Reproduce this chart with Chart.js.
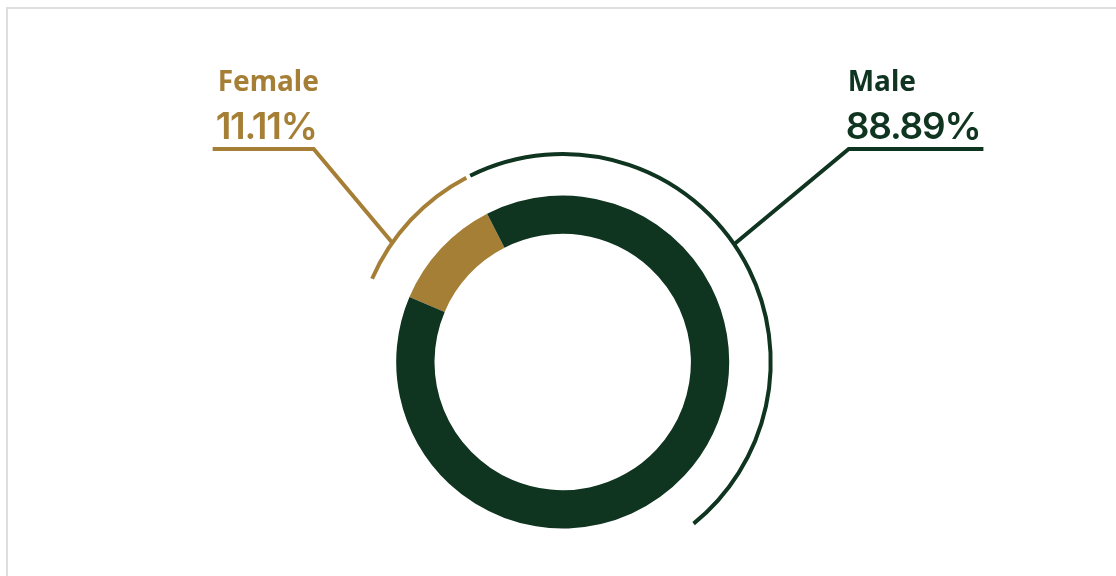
<!DOCTYPE html>
<html>
<head>
<meta charset="utf-8">
<script src="https://cdn.jsdelivr.net/npm/chart.js@4/dist/chart.umd.min.js"></script>
<style>
    html, body { margin: 0; padding: 0; background: #fff; overflow: hidden; }
    .card { position: absolute; left: 6px; top: 7px; width: 1200px; height: 700px; border: 2px solid #dedede; box-sizing: border-box; }
    .wrap { position: absolute; left: 0; top: 0; width: 1116px; height: 576px; }
</style>
</head>
<body>
<div class="card"></div>
<div class="wrap"><canvas id="genderChart"></canvas></div>
<script>
const labels = ['Female', 'Male'];
const shares = [11.11, 88.89];
const colors = ['#a67f37', '#0f3420'];

// callout layout: where each leader leaves the outer ring and where it bends
const leaderAngles = [-145, -34.5];
const elbows = [{ dx: -249, dy: -213 }, { dx: 286, dy: -213 }];

const ringDecor = {
    id: 'ringDecor',
    afterDatasetsDraw(chart) {
        const ctx = chart.ctx;
        const arcs = chart.getDatasetMeta(0).data;
        const gap = 0.6 * Math.PI / 180;
        const maxSweep = 168 * Math.PI / 180;

        ctx.save();
        ctx.lineWidth = 4;
        ctx.lineCap = 'butt';
        arcs.forEach(function (arc, i) {
            const p = arc.getProps(['x', 'y', 'startAngle', 'endAngle', 'outerRadius'], true);
            const r = p.outerRadius + 41.5;
            const end = Math.min(p.endAngle - gap, p.startAngle + maxSweep);

            ctx.strokeStyle = colors[i];
            ctx.fillStyle = colors[i];

            // outer ring
            ctx.beginPath();
            ctx.arc(p.x, p.y, r, p.startAngle + gap, end);
            ctx.stroke();

            // leader line with horizontal underline
            const a = leaderAngles[i] * Math.PI / 180;
            const ax = p.x + r * Math.cos(a);
            const ay = p.y + r * Math.sin(a);
            const ex = p.x + elbows[i].dx;
            const ey = p.y + elbows[i].dy;

            const value = shares[i].toFixed(2) + '%';
            ctx.font = '600 37px Inter';
            ctx.letterSpacing = '-1.2px';
            const w = ctx.measureText(value).width;
            const left = i === 0 ? ex - w : ex;
            const right = i === 0 ? ex : ex + w;

            ctx.beginPath();
            ctx.moveTo(ax, ay);
            ctx.lineTo(ex, ey);
            ctx.lineTo(i === 0 ? left : right, ey);
            ctx.stroke();

            const textX = i === 0 ? left + 3 : left - 3;
            ctx.textAlign = 'left';
            ctx.textBaseline = 'alphabetic';
            ctx.fillText(value, textX, p.y - 222.7);

            ctx.letterSpacing = '0px';
            ctx.font = 'bold 28px "Noto Sans"';
            ctx.fillText(labels[i], textX + 2, p.y - 271);
        });
        ctx.restore();
    }
};

new Chart(document.getElementById('genderChart'), {
    type: 'doughnut',
    data: {
        labels: labels,
        datasets: [{
            data: shares,
            backgroundColor: colors,
            borderWidth: 0
        }]
    },
    options: {
        responsive: true,
        maintainAspectRatio: false,
        animation: false,
        rotation: -67,
        cutout: '77%',
        layout: {
            padding: { top: 195.5, bottom: 47.5, left: 200, right: 190.6 }
        },
        plugins: {
            legend: { display: false },
            tooltip: { enabled: false }
        }
    },
    plugins: [ringDecor]
});
</script>
</body>
</html>
